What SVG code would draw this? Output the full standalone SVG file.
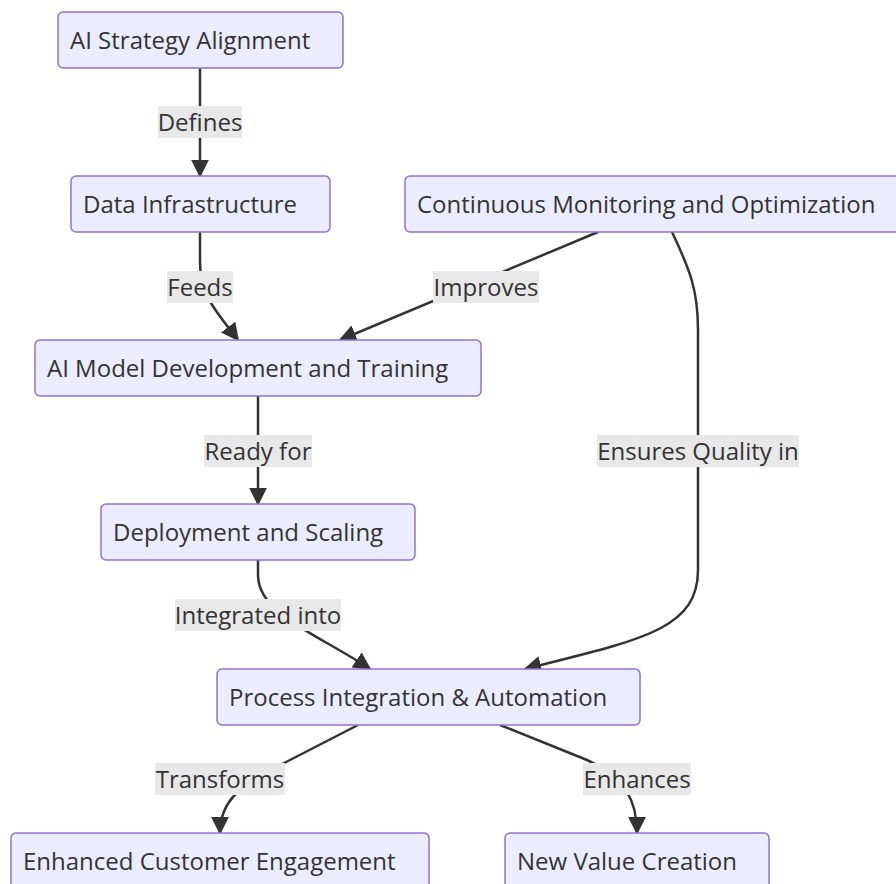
<svg xmlns="http://www.w3.org/2000/svg" width="896" height="884" viewBox="0 0 896 884">
<style>
.node rect{fill:#ECECFF;stroke:#9370DB;stroke-width:1.5}
text{font-family:"Open Sans","Noto Sans",sans-serif;font-size:24px;fill:#333}
.edge{fill:none;stroke:#333;stroke-width:2.5}
.lbl rect{fill:#e8e8e8}
.lbl text{text-anchor:middle}
</style>
<defs>
<marker id="ah" viewBox="0 0 10 10" refX="9" refY="5" markerWidth="18" markerHeight="18" markerUnits="userSpaceOnUse" orient="auto">
<path d="M0,0 L10,5 L0,10 z" fill="#333"/>
</marker>
</defs>
<rect width="896" height="884" fill="#fff"/>
<g id="edges">
<path class="edge" marker-end="url(#ah)" d="M200,68 L200,176"/>
<path class="edge" marker-end="url(#ah)" d="M200,232 L200,262 C200,295 215,310 238,340"/>
<path class="edge" marker-end="url(#ah)" d="M598,232 L340,340"/>
<path class="edge" marker-end="url(#ah)" d="M258,396 L258,504"/>
<path class="edge" marker-end="url(#ah)" d="M672,232 C690,270 698,290 698,330 L698,570 C698,630 640,640 525,669"/>
<path class="edge" marker-end="url(#ah)" d="M258,560 L258,575 C258,615 320,635 370,669"/>
<path class="edge" marker-end="url(#ah)" d="M358,725 L290,760 C240,785 220,800 220,833"/>
<path class="edge" marker-end="url(#ah)" d="M500,725 L587,760 C625,778 637,800 637,833"/>
</g>
<g id="edge-labels">
<g class="lbl"><rect x="158" y="106" width="84" height="32"/><text x="200" y="131">Defines</text></g>
<g class="lbl"><rect x="167" y="271" width="66" height="32"/><text x="200" y="296">Feeds</text></g>
<g class="lbl"><rect x="433" y="271" width="106" height="32"/><text x="486" y="296">Improves</text></g>
<g class="lbl"><rect x="204" y="435" width="108" height="32"/><text x="258" y="460">Ready for</text></g>
<g class="lbl"><rect x="597" y="435" width="202" height="32"/><text x="698" y="460">Ensures Quality in</text></g>
<g class="lbl"><rect x="175" y="599" width="166" height="32"/><text x="258" y="624">Integrated into</text></g>
<g class="lbl"><rect x="155" y="763" width="130" height="32"/><text x="220" y="788">Transforms</text></g>
<g class="lbl"><rect x="583" y="763" width="108" height="32"/><text x="637" y="788">Enhances</text></g>
</g>
<g id="n1" class="node"><rect x="58" y="12" width="285" height="56" rx="5"/><text x="70" y="49">AI Strategy Alignment</text></g>
<g id="n2" class="node"><rect x="71" y="176" width="259" height="56" rx="5"/><text x="83" y="213">Data Infrastructure</text></g>
<g id="n3" class="node"><rect x="405" y="176" width="500" height="56" rx="5"/><text x="417" y="213">Continuous Monitoring and Optimization</text></g>
<g id="n4" class="node"><rect x="35" y="340" width="446" height="56" rx="5"/><text x="47" y="377">AI Model Development and Training</text></g>
<g id="n5" class="node"><rect x="101" y="504" width="314" height="56" rx="5"/><text x="113" y="541">Deployment and Scaling</text></g>
<g id="n6" class="node"><rect x="217" y="669" width="423" height="56" rx="5"/><text x="229" y="706">Process Integration &amp; Automation</text></g>
<g id="n7" class="node"><rect x="11" y="833" width="418" height="60" rx="5"/><text x="23" y="870">Enhanced Customer Engagement</text></g>
<g id="n8" class="node"><rect x="505" y="833" width="264" height="60" rx="5"/><text x="517" y="870">New Value Creation</text></g>
</svg>
